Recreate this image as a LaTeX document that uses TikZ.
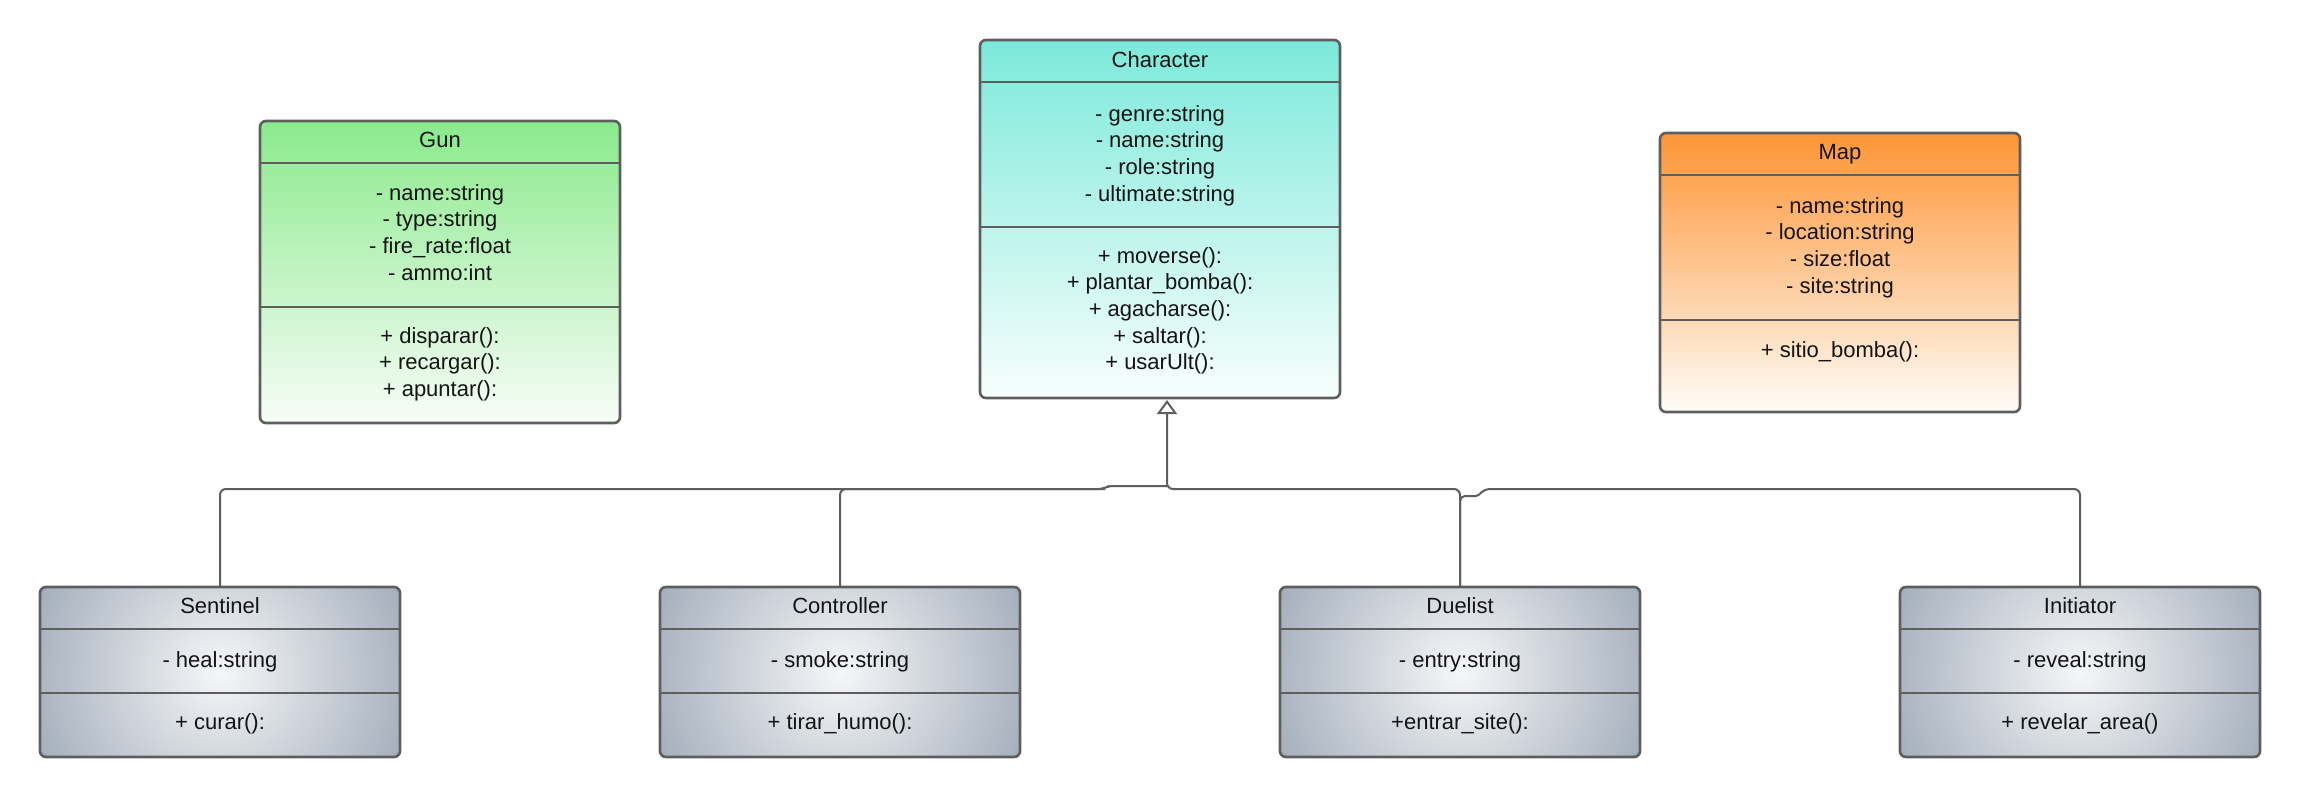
\documentclass[tikz,border=0pt]{standalone}
\usepackage{fontspec}
\setmainfont{Liberation Sans}
\usetikzlibrary{arrows.meta,calc}
\definecolor{bord}{HTML}{5E5E5E}
\definecolor{ink}{HTML}{141414}
\definecolor{chartop}{HTML}{7CE9DA}
\definecolor{charbot}{HTML}{F8FEFD}
\definecolor{guntop}{HTML}{8AEA8C}
\definecolor{gunbot}{HTML}{F8FDF8}
\definecolor{maptop}{HTML}{FD9535}
\definecolor{mapbot}{HTML}{FFFCF8}
\definecolor{ginner}{HTML}{F5F6F8}
\definecolor{gouter}{HTML}{A2ADBA}
\begin{document}
\begin{tikzpicture}[x=1pt,y=-1pt,
  cls/.style={draw=bord, line width=2.6pt, rounded corners=6pt, minimum width=360pt,
    anchor=north west, inner sep=0pt, outer sep=0pt},
  upper/.style={cls, top color=#1top, bottom color=#1bot},
  lower/.style={cls, path picture={
      \fill[gouter] (path picture bounding box.south west) rectangle (path picture bounding box.north east);
      \shade[inner color=ginner, outer color=gouter] (path picture bounding box.center) circle (205pt);}},
  divl/.style={draw=bord, line width=2.6pt},
  txt/.style={anchor=base, inner sep=0pt, font=\fontsize{22}{26}\selectfont, text=ink},
  conn/.style={draw=bord, line width=2pt},
  gen/.style={-{Triangle[open, width=20pt, length=14pt]}}]
\fill[white] (0,0) rectangle (2300,798);
\useasboundingbox (0,0) rectangle (2300,798);

% ---------- Character ----------
\node[upper=char, minimum height=358pt] (char) at (980,40) {};
\draw[divl] (char.west |- 0,82) -- (char.east |- 0,82);
\draw[divl] (char.west |- 0,227) -- (char.east |- 0,227);
\node[txt] (charT) at (1160,67) {Character};
\foreach[count=\i] \t in {- genre:string,- name:string,- role:string,- ultimate:string}
  \node[txt] (charA\i) at (1160,{121+26.7*(\i-1)}) {\t};
\foreach[count=\i] \t in {+ moverse():,+ plantar\_bomba():,+ agacharse():,+ saltar():,+ usarUlt():}
  \node[txt] (charM\i) at (1160,{263+26.7*(\i-1)}) {\t};

% ---------- Gun ----------
\node[upper=gun, minimum height=302pt] (gun) at (260,121) {};
\draw[divl] (gun.west |- 0,163) -- (gun.east |- 0,163);
\draw[divl] (gun.west |- 0,307) -- (gun.east |- 0,307);
\node[txt] (gunT) at (440,147) {Gun};
\foreach[count=\i] \t in {- name:string,- type:string,- fire\_rate:float,- ammo:int}
  \node[txt] (gunA\i) at (440,{200+26.7*(\i-1)}) {\t};
\foreach[count=\i] \t in {+ disparar():,+ recargar():,+ apuntar():}
  \node[txt] (gunM\i) at (440,{343+26.7*(\i-1)}) {\t};

% ---------- Map ----------
\node[upper=map, minimum height=279pt] (map) at (1660,133) {};
\draw[divl] (map.west |- 0,175) -- (map.east |- 0,175);
\draw[divl] (map.west |- 0,320) -- (map.east |- 0,320);
\node[txt] (mapT) at (1840,159) {Map};
\foreach[count=\i] \t in {- name:string,- location:string,- size:float,- site:string}
  \node[txt] (mapA\i) at (1840,{213+26.7*(\i-1)}) {\t};
\node[txt] (mapM1) at (1840,357) {+ sitio\_bomba():};

% ---------- Subclasses ----------
\node[lower, minimum height=170pt] (sent) at (40,587) {};
\node[lower, minimum height=170pt] (ctrl) at (660,587) {};
\node[lower, minimum height=170pt] (duel) at (1280,587) {};
\node[lower, minimum height=170pt] (init) at (1900,587) {};
\foreach \n in {sent,ctrl,duel,init}{
  \draw[divl] (\n.west |- 0,629) -- (\n.east |- 0,629);
  \draw[divl] (\n.west |- 0,693) -- (\n.east |- 0,693);
}
\node[txt] (sentT) at (220,613) {Sentinel};
\node[txt] (sentA) at (220,667) {- heal:string};
\node[txt] (sentM) at (220,729) {+ curar():};
\node[txt] (ctrlT) at (840,613) {Controller};
\node[txt] (ctrlA) at (840,667) {- smoke:string};
\node[txt] (ctrlM) at (840,729) {+ tirar\_humo():};
\node[txt] (duelT) at (1460,613) {Duelist};
\node[txt] (duelA) at (1460,667) {- entry:string};
\node[txt] (duelM) at (1460,729) {+entrar\_site():};
\node[txt] (initT) at (2080,613) {Initiator};
\node[txt] (initA) at (2080,667) {- reveal:string};
\node[txt] (initM) at (2080,729) {+ revelar\_area()};

% ---------- Generalisation connectors ----------
\coordinate (tip) at (1167,400);
\coordinate (join) at (1167,486);
\draw[conn, rounded corners=6pt] (ctrl.north) |- (1105,489);
\draw[conn, rounded corners=6pt] (sent.north) |- (1104,489)
   [rounded corners=2pt] -- (1109,486) [sharp corners] -- (join);
\draw[conn, rounded corners=6pt, gen] (duel.north) |- (join |- 0,489) -- (tip);
\draw[conn, rounded corners=6pt] (init.north) |- (1484,489)
   [rounded corners=2pt] -- (1478,496) [rounded corners=5pt] -| (duel.north);
\end{tikzpicture}
\end{document}
